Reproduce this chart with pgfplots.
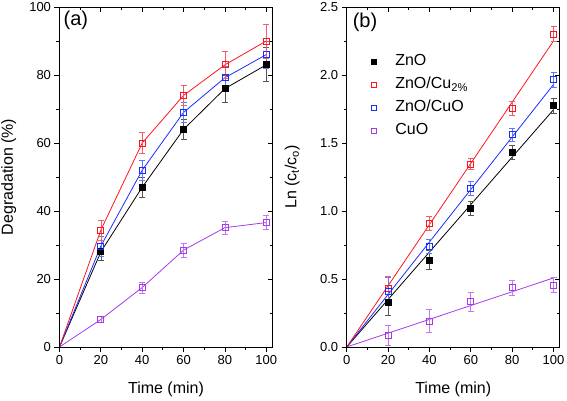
\documentclass[border=0pt]{standalone}
\usepackage{fontspec}
\setmainfont{Liberation Sans}
\usepackage{pgfplots}
\pgfplotsset{compat=1.18}
\definecolor{cred}{RGB}{255,20,30}
\definecolor{cblue}{RGB}{25,45,255}
\definecolor{cpur}{RGB}{165,60,235}
\definecolor{ered}{RGB}{240,95,105}
\definecolor{eblue}{RGB}{95,120,245}
\definecolor{epur}{RGB}{195,120,240}
\definecolor{eblack}{RGB}{85,85,85}
\newcommand{\lf}{\fontsize{16}{18}\selectfont}
\pgfplotsset{
  base/.style={
    scale only axis, width=213pt, height=340pt,
    xmin=0, xmax=103, xtick={0,20,...,100},
    minor x tick num=1, minor y tick num=1,
    major tick length=5pt, minor tick length=3pt,
    tick style={black, line width=0.8pt},
    axis line style={line width=0.9pt},
    every tick label/.append style={font=\fontsize{13}{15}\selectfont},
    /pgf/number format/assume math mode=true,
  },
  main/.style={base, tick align=outside, xtick pos=bottom, ytick pos=left,
    every axis x label/.style={at={(axis description cs:0.5,-0.126)},anchor=center,font=\fontsize{16}{18}\selectfont},
  },
  over/.style={base, tick align=inside, xtick pos=top, ytick pos=right,
    xticklabels={}, yticklabels={}},
  ser/.style 2 args={color=#1, line width=0.8pt, mark options={solid, line width=0.8pt, fill=white, draw=#1},
    mark size=3pt,
    error bars/y dir=both, error bars/y explicit,
    error bars/error bar style={#2, line width=0.6pt},
    error bars/error mark options={rotate=90, #2, mark size=3pt, line width=0.6pt}},
}
\begin{document}
\begin{tikzpicture}
\path[use as bounding box] (0,0) rectangle (567pt,401pt);
% ---------------- panel (a)
\begin{axis}[main, at={(59.5pt,54pt)}, anchor=south west,
  ymin=0, ymax=100, ytick={0,20,...,100},
  xlabel={Time (min)}, ylabel={Degradation (\%)},
  every axis y label/.style={at={(axis description cs:-0.238,0.5)},rotate=90,anchor=center,font=\fontsize{16}{18}\selectfont},
]
\addplot[ser={black}{eblack}, mark=square*, mark options={fill=black}, mark indices={2,3,4,5,6}]
 table[x=x,y=y,y error=e] {
x y e
0 0 0
20 28 2.5
40 47 3
60 64 3
80 76 4
100 83 5
};
\addplot[ser={cpur}{epur}, mark=square, mark indices={2,3,4,5,6}]
 table[x=x,y=y,y error=e] {
x y e
0 0 0
20 8.1 0.8
40 17.5 1.6
60 28.5 2.1
80 35.1 2
100 36.6 2
};
\addplot[ser={cblue}{eblue}, mark=square, mark indices={2,3,4,5,6}]
 table[x=x,y=y,y error=e] {
x y e
0 0 0
20 29.7 3
40 52 3
60 69 3
80 79.2 3.5
100 86 4
};
\addplot[ser={cred}{ered}, mark=square, mark indices={2,3,4,5,6}]
 table[x=x,y=y,y error=e] {
x y e
0 0 0
20 34.4 3
40 60 3
60 74 3
80 83 4
100 90 5
};
\node[font=\fontsize{20}{22}\selectfont] at (rel axis cs:0.077,0.962) {(a)};
\end{axis}
\begin{axis}[over, at={(59.5pt,54pt)}, anchor=south west,
  ymin=0, ymax=100, ytick={0,20,...,100}]
\end{axis}
% ---------------- panel (b)
\begin{axis}[main, at={(346.7pt,54pt)}, anchor=south west,
  ymin=0, ymax=2.5, ytick={0,0.5,...,2.5},
  yticklabel style={/pgf/number format/.cd, fixed, fixed zerofill, precision=1},
  xlabel={Time (min)}, ylabel={Ln (c\textsubscript{t}/c\textsubscript{o})},
  every axis y label/.style={at={(axis description cs:-0.256,0.5)},rotate=90,anchor=center,font=\fontsize{16}{18}\selectfont},
  legend style={draw=none, fill=none, at={(axis cs:12,2.16)}, anchor=north west,
    inner sep=0pt, outer sep=0pt,
    row sep=6pt, column sep=18pt,
    nodes={inner sep=1pt, text height=11.5pt, text depth=3.5pt, font=\lf}},
  legend cell align=left,
  legend image code/.code={\draw[#1, mark size=2.4pt] plot coordinates {(0cm,0cm)};},
]
% fit lines
\addplot[black, line width=0.8pt, forget plot] coordinates {(0,0) (100,1.745)};
\addplot[cpur, line width=0.8pt, forget plot] coordinates {(0,0) (100,0.508)};
\addplot[cblue, line width=0.8pt, forget plot] coordinates {(0,0) (100,1.93)};
\addplot[cred, line width=0.8pt, forget plot] coordinates {(0,0) (100,2.25)};
% data
\addplot[ser={black}{eblack}, only marks, mark=square*, mark options={fill=black}]
 table[x=x,y=y,y error=e] {
x y e
20 0.33 0.1
40 0.64 0.07
60 1.02 0.05
80 1.43 0.05
100 1.775 0.055
};
\addplot[ser={cred}{ered}, only marks, mark=square]
 table[x=x,y=y,y error=e] {
x y e
20 0.43 0.09
40 0.91 0.05
60 1.345 0.04
80 1.755 0.05
100 2.30 0.055
};
\addplot[ser={cblue}{eblue}, only marks, mark=square]
 table[x=x,y=y,y error=e] {
x y e
20 0.41 0.1
40 0.74 0.05
60 1.165 0.05
80 1.56 0.05
100 1.965 0.055
};
\addplot[ser={cpur}{epur}, only marks, mark=square]
 table[x=x,y=y,y error=e] {
x y e
20 0.086 0.07
40 0.19 0.085
60 0.335 0.07
80 0.435 0.055
100 0.455 0.055
};
\legend{{\lf ZnO}, {\lf ZnO/Cu\textsubscript{2\%}}, {\lf ZnO/CuO}, {\lf CuO}}
\node[font=\fontsize{20}{22}\selectfont] at (rel axis cs:0.086,0.954) {(b)};
\end{axis}
\begin{axis}[over, at={(346.7pt,54pt)}, anchor=south west,
  ymin=0, ymax=2.5, ytick={0,0.5,...,2.5}]
\end{axis}
\end{tikzpicture}
\end{document}
